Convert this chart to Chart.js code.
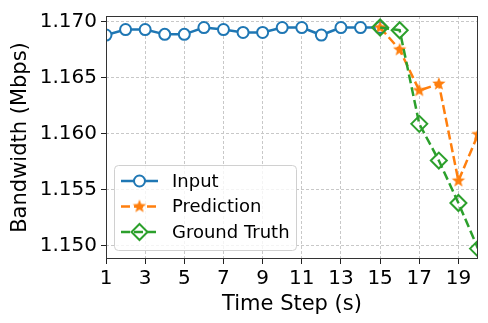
<!DOCTYPE html>
<html>
<head>
<meta charset="utf-8">
<script src="https://cdn.jsdelivr.net/npm/chart.js@4"></script>
<style>
  html, body { margin: 0; padding: 0; background: #fff; }
  #wrap { width: 488px; height: 323px; }
</style>
</head>
<body>
<div id="wrap"><canvas id="bwChart" width="488" height="323"></canvas></div>
<script>
// ========= DATA =================== //
let inputSteps = [1, 2, 3, 4, 5, 6, 7, 8, 9, 10, 11, 12, 13, 14, 15];
let inputValues = [
  1.16878, 1.16927, 1.16927, 1.16884, 1.16884, 1.16945, 1.16927, 1.16901,
  1.16901, 1.16945, 1.16945, 1.16878, 1.16945, 1.16945, 1.16945,
];
let futureSteps = [15, 16, 17, 18, 19, 20];
let predictionValues = [1.16945, 1.16747, 1.16383, 1.16441, 1.15576, 1.1599];
let truthValues = [1.16945, 1.16921, 1.16085, 1.15757, 1.15378, 1.14971];
let xTicks = [1, 3, 5, 7, 9, 11, 13, 15, 17, 19];
let yTicks = [1.15, 1.155, 1.16, 1.165, 1.17];

const BLUE = "#1f77b4";
const ORANGE = "#ff7f0e";
const GREEN = "#2ca02c";
const FONT = "'DejaVu Sans', sans-serif";

function toPoints(xs, ys) {
  return xs.map((x, i) => ({ x: x, y: ys[i] }));
}

// ========= STAR MARKER (matplotlib "*") =========== //
function makeStar(r, color) {
  let c = document.createElement("canvas");
  let s = Math.ceil(r * 2 + 2);
  c.width = s;
  c.height = s;
  let g = c.getContext("2d");
  g.beginPath();
  for (let i = 0; i < 10; i++) {
    let rad = i % 2 === 0 ? r : r * 0.42;
    let a = -Math.PI / 2 + (i * Math.PI) / 5;
    let px = s / 2 + rad * Math.cos(a);
    let py = s / 2 + rad * Math.sin(a);
    if (i === 0) g.moveTo(px, py);
    else g.lineTo(px, py);
  }
  g.closePath();
  g.fillStyle = color;
  g.fill();
  return c;
}
let starImg = makeStar(7, ORANGE);

// ========= FRAME + LEGEND PLUGINS =========== //
let framePlugin = {
  id: "frame",
  afterDatasetsDraw(chart) {
    let a = chart.chartArea;
    let ctx = chart.ctx;
    ctx.save();
    ctx.strokeStyle = "#333";
    ctx.lineWidth = 1;
    ctx.strokeRect(a.left + 0.5, a.top + 0.5, a.right - a.left - 1, a.bottom - a.top - 1);
    ctx.restore();
  },
};

let legendPlugin = {
  id: "boxLegend",
  afterDraw(chart) {
    let a = chart.chartArea;
    let ctx = chart.ctx;
    let bx = a.left + 8, by = a.bottom - 94, bw = 182, bh = 85;
    ctx.save();
    ctx.beginPath();
    ctx.roundRect(bx + 0.5, by + 0.5, bw, bh, 4);
    ctx.fillStyle = "rgba(255,255,255,0.8)";
    ctx.fill();
    ctx.strokeStyle = "#d0d0d0";
    ctx.lineWidth = 1;
    ctx.stroke();

    chart.data.datasets.forEach((ds, i) => {
      let cy = by + 16 + i * 25.5;
      let x0 = bx + 7, x1 = bx + 44, cx = (x0 + x1) / 2;
      ctx.beginPath();
      ctx.setLineDash(ds.borderDash || []);
      ctx.strokeStyle = ds.borderColor;
      ctx.lineWidth = ds.borderWidth;
      ctx.moveTo(x0, cy);
      ctx.lineTo(x1, cy);
      ctx.stroke();
      ctx.setLineDash([]);
      ctx.lineWidth = ds.pointBorderWidth;
      ctx.strokeStyle = ds.borderColor;
      if (ds.pointStyle === "circle") {
        ctx.beginPath();
        ctx.arc(cx, cy, ds.pointRadius, 0, Math.PI * 2);
        ctx.fillStyle = "#fff";
        ctx.fill();
        ctx.stroke();
      } else if (ds.pointStyle === "rectRot") {
        let r = ds.pointRadius;
        ctx.beginPath();
        ctx.moveTo(cx, cy - r);
        ctx.lineTo(cx + r, cy);
        ctx.lineTo(cx, cy + r);
        ctx.lineTo(cx - r, cy);
        ctx.closePath();
        ctx.stroke();
      } else {
        ctx.drawImage(ds.pointStyle, cx - ds.pointStyle.width / 2, cy - ds.pointStyle.height / 2);
      }
      ctx.fillStyle = "#000";
      ctx.font = "18px " + FONT;
      ctx.textBaseline = "middle";
      ctx.fillText(ds.label, bx + 58, cy + 1);
    });
    ctx.restore();
  },
};

// ========= CHART =========== //
let ctx = document.getElementById("bwChart").getContext("2d");

let bwChart = new Chart(ctx, {
  type: "line",
  data: {
    datasets: [
      {
        label: "Input",
        data: toPoints(inputSteps, inputValues),
        borderColor: BLUE,
        borderWidth: 2.5,
        pointStyle: "circle",
        pointRadius: 5.5,
        pointBorderWidth: 2,
        pointBackgroundColor: "#fff",
        pointBorderColor: BLUE,
        order: 3,
      },
      {
        label: "Prediction",
        data: toPoints(futureSteps, predictionValues),
        borderColor: ORANGE,
        borderWidth: 2.5,
        borderDash: [9, 4],
        pointStyle: starImg,
        pointRadius: 7,
        pointBorderWidth: 1,
        order: 2,
      },
      {
        label: "Ground Truth",
        data: toPoints(futureSteps, truthValues),
        borderColor: GREEN,
        borderWidth: 2.5,
        borderDash: [9, 4],
        pointStyle: "rectRot",
        pointRadius: 8,
        pointBorderWidth: 2,
        pointBackgroundColor: "rgba(0,0,0,0)",
        pointBorderColor: GREEN,
        order: 1,
      },
    ],
  },
  options: {
    responsive: false,
    animation: false,
    layout: { padding: { top: 10, right: 8, left: 0, bottom: 0 } },
    plugins: {
      legend: { display: false },
      tooltip: { enabled: false },
    },
    scales: {
      x: {
        type: "linear",
        min: 1,
        max: 20,
        afterBuildTicks: (scale) => {
          scale.ticks = xTicks.map((v) => ({ value: v }));
        },
        afterFit: (scale) => {
          scale.height = 64;
        },
        grid: {
          color: "#c8c8c8",
          lineWidth: 1,
          tickLength: 5,
          tickColor: "#222",
          tickBorderDash: [],
          drawTicks: true,
        },
        border: { display: false, dash: [3, 2] },
        ticks: {
          color: "#000",
          font: { family: FONT, size: 20 },
          padding: 3,
          maxRotation: 0,
          autoSkip: false,
          callback: (v) => v,
        },
        title: {
          display: true,
          text: "Time Step (s)",
          color: "#000",
          font: { family: FONT, size: 21 },
          padding: { top: 0, bottom: 6 },
        },
      },
      y: {
        type: "linear",
        min: 1.14878,
        max: 1.17048,
        afterBuildTicks: (scale) => {
          scale.ticks = yTicks.map((v) => ({ value: v }));
        },
        afterFit: (scale) => {
          scale.width = 106;
        },
        grid: {
          color: "#c8c8c8",
          lineWidth: 1,
          tickLength: 5,
          tickColor: "#222",
          tickBorderDash: [],
        },
        border: { display: false, dash: [3, 2] },
        ticks: {
          color: "#000",
          font: { family: FONT, size: 20 },
          padding: 4,
          callback: (v) => v.toFixed(3),
        },
        title: {
          display: true,
          text: "Bandwidth (Mbps)",
          color: "#000",
          font: { family: FONT, size: 21 },
          padding: { top: 8, bottom: 0 },
        },
      },
    },
  },
  plugins: [framePlugin, legendPlugin],
});
</script>
</body>
</html>
